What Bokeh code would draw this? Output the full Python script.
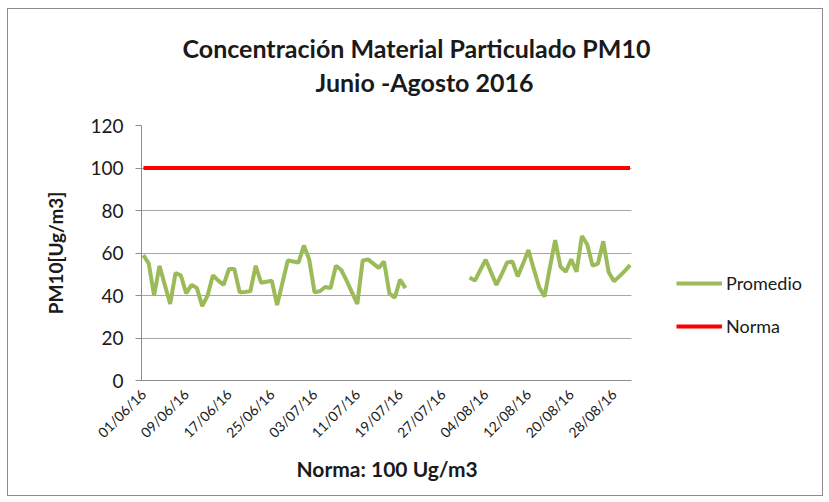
import math
from bokeh.plotting import figure
from bokeh.models import Range1d, FixedTicker, Legend, LegendItem, Title, ColumnDataSource
from bokeh.embed import file_html
from bokeh.resources import INLINE

NaN = float("nan")

# day index 0 = 01/06/16 ... 91 = 31/08/16
day_index = list(range(92))

tick_days = [0, 8, 16, 24, 32, 40, 48, 56, 64, 72, 80, 88]
tick_labels = ["01/06/16", "09/06/16", "17/06/16", "25/06/16", "03/07/16", "11/07/16",
               "19/07/16", "27/07/16", "04/08/16", "12/08/16", "20/08/16", "28/08/16"]

promedio_junio = [59, 55, 40, 54, 45, 36, 50.5, 49.5, 41, 45, 43.5, 35, 40, 49.5, 47,
                  45, 52.5, 52.5, 41.5, 41.7, 42, 54, 46, 46.5, 47, 35.5, 46, 56.5, 56, 55.5]
promedio_julio = [63.5, 57, 41.5, 42, 44, 43.5, 54, 52, 47, 41.5, 36, 56.5, 57, 55, 53,
                  56, 41, 39, 47.5, 43.5, NaN, NaN, NaN, NaN, NaN, NaN, NaN, NaN, NaN, NaN, NaN]
promedio_agosto = [48.5, 47, 52, 56.8, 51, 45, 50, 55.5, 56, 49, 55, 61.4, 52.5, 44, 39.5,
                   53, 66, 53.5, 51.2, 57, 51.2, 68, 64, 54, 55, 65.5, 51, 46.7, 49, 51.5, 54.3]
promedio = promedio_junio + promedio_julio + promedio_agosto
norma = [100] * 92

y_ticks = [0, 20, 40, 60, 80, 100, 120]

GREEN = "#9BBB59"
RED = "#FF0000"
GRAY = "#8c8c8c"
FONT = "Lato"
TXT = "#1a1a1a"

X0, X1 = -0.36, 91.36          # extent of the plotting area (days)
XR = 127.37                     # frame extended to the right to host the legend

src = ColumnDataSource(dict(x=day_index, promedio=promedio, norma=norma))

p = figure(width=816, height=488, x_range=Range1d(X0, XR), y_range=Range1d(0, 120),
           output_backend="svg", toolbar_location=None,
           min_border_left=133, min_border_right=0, min_border_top=116, min_border_bottom=117)
p.styles = {"border": "1px solid #8a8a8a", "margin-left": "7px", "margin-top": "8px"}
p.outline_line_color = None
p.background_fill_color = "white"
p.border_fill_color = "white"

r_prom = p.line("x", "promedio", source=src, line_color=GREEN, line_width=4)
r_norm = p.line("x", "norma", source=src, line_color=RED, line_width=4)

# Titles: blank spacer nearest the frame, then line 2, then line 1
spacer = Title(text=".", text_color="white", text_font_size="10px", standoff=17)
t2 = Title(text="Junio -Agosto 2016", align="left", text_font=FONT, text_font_size="25px",
           text_font_style="bold", text_color=TXT, offset=174, standoff=4)
t1 = Title(text="Concentración  Material Particulado  PM10", align="left", text_font=FONT,
           text_font_size="25px", text_font_style="bold", text_color=TXT, offset=41, standoff=0)
p.add_layout(spacer, "above")
p.add_layout(t2, "above")
p.add_layout(t1, "above")

# Y axis
p.yaxis.ticker = FixedTicker(ticks=y_ticks)
p.yaxis.axis_label = "PM10[Ug/m3]"
p.yaxis.axis_label_text_font = FONT
p.yaxis.axis_label_text_font_style = "bold"
p.yaxis.axis_label_text_font_size = "19px"
p.yaxis.axis_label_text_color = TXT
p.yaxis.axis_label_standoff = 20
p.yaxis.major_label_text_font = FONT
p.yaxis.major_label_text_font_size = "19px"
p.yaxis.major_label_text_color = TXT
p.yaxis.major_label_standoff = 12
p.yaxis.axis_line_color = GRAY
p.yaxis.major_tick_line_color = GRAY
p.yaxis.major_tick_in = 0
p.yaxis.major_tick_out = 6
p.yaxis.minor_tick_line_color = None

# X axis
p.xaxis.bounds = (X0, X1)
p.xaxis.ticker = FixedTicker(ticks=tick_days)
p.xaxis.major_label_overrides = {d: lab for d, lab in zip(tick_days, tick_labels)}
p.xaxis.major_label_orientation = math.pi / 4
p.xaxis.major_label_text_font = FONT
p.xaxis.major_label_text_font_size = "14px"
p.xaxis.major_label_text_color = TXT
p.xaxis.major_label_standoff = 5
p.xaxis.axis_line_color = GRAY
p.xaxis.major_tick_line_color = None
p.xaxis.minor_tick_line_color = None

xlab = Title(text="Norma: 100 Ug/m3", align="left", text_font=FONT, text_font_size="21px",
             text_font_style="bold", text_color=TXT, offset=155, standoff=8)
p.add_layout(xlab, "below")

p.xgrid.grid_line_color = None
p.ygrid.grid_line_color = "#a6a6a6"
p.ygrid.grid_line_width = 1
p.ygrid.cross_bounds = (X0, X1)

legend = Legend(items=[LegendItem(label="Promedio", renderers=[r_prom]),
                       LegendItem(label="Norma", renderers=[r_norm])],
                location=(535, 43), orientation="vertical")
legend.glyph_width = 46
legend.glyph_height = 20
legend.label_height = 20
legend.spacing = 21
legend.padding = 0
legend.margin = 0
legend.label_standoff = 4
legend.label_text_font = FONT
legend.label_text_font_size = "18px"
legend.label_text_color = TXT
legend.border_line_color = None
legend.background_fill_alpha = 0
p.add_layout(legend, "center")

open("out.html", "w").write(file_html(p, INLINE))
